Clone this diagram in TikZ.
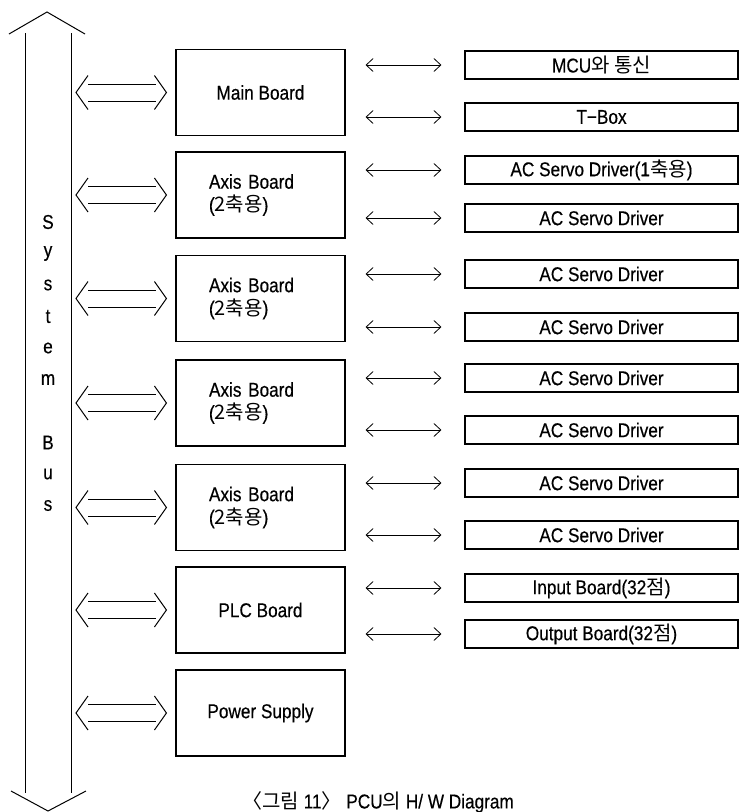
\documentclass[tikz,border=0pt]{standalone}
\usepackage{fontspec}
\setmainfont{Liberation Sans}[FakeStretch=0.86, FakeBold=0.4]
\newfontfamily\kr{Noto Sans CJK KR}
\usetikzlibrary{positioning, arrows.meta, calc}

\begin{document}
\begin{tikzpicture}[x=1pt, y=-1pt, font=\fontsize{20}{23}\selectfont,
    board/.style={draw, line width=1.1pt, minimum width=169pt, minimum height=86pt, inner sep=0pt},
    unit/.style={draw, line width=1.1pt, minimum width=273pt, minimum height=28pt, inner sep=0pt},
    link/.style={line width=0.8pt, {Straight Barb[length=7pt,width=13pt]}-{Straight Barb[length=7pt,width=13pt]}},
    dbl/.style={line width=1pt}]
    \useasboundingbox (0,0) rectangle (743,812);

    % System bus
    \draw[line width=1pt] (25,33) -- (25,793);
    \draw[line width=1pt] (71,33) -- (71,793);
    \draw[line width=1pt] (9,34) -- (47,12) -- (85,34); % up
    \draw[line width=1pt] (11,791) -- (48,811) -- (86,791); % down
    \coordinate (busR) at (71,400);

    % Letters on the bus
    \foreach \y/\c in {222/S, 253.5/y, 285/s, 316.5/t, 348/e, 379.5/m, 442.5/B, 474/u, 505.5/s} {
        \node (bus-\c-\y) at (48,\y) {\c};
    }

    % Boards
    \node[board] (main) at (260.5,92.5) {Main Board};
    \node[board, align=left, text width=103pt] (axisA) at (260.5,195) {Axis Board\\({\kr 2축용})};
    \node[board, align=left, text width=103pt] (axisB) at (260.5,298.5) {Axis Board\\({\kr 2축용})};
    \node[board, align=left, text width=103pt] (axisC) at (260.5,403) {Axis Board\\({\kr 2축용})};
    \node[board, align=left, text width=103pt] (axisD) at (260.5,507.5) {Axis Board\\({\kr 2축용})};
    \node[board] (plc) at (260.5,610) {PLC Board};
    \node[board] (psu) at (260.5,713) {Power Supply};

    % Double arrows between the bus and the boards
    \foreach \b in {main, axisA, axisB, axisC, axisD, plc, psu} {
        \coordinate (l) at ($(\b.west -| busR)+(5,0)$);
        \coordinate (r) at ($(\b.west)+(-9,0)$);
        \draw[dbl] ($(l)+(12,-17)$) -- (l) -- ($(l)+(12,17)$);
        \draw[dbl] ($(r)+(-12,-17)$) -- (r) -- ($(r)+(-12,17)$);
        \draw[dbl] ($(l)+(12,-8.5)$) -- ($(r)+(-10,-8.5)$);
        \draw[dbl] ($(l)+(12,8.5)$) -- ($(r)+(-10,8.5)$);
    }

    % Units on the right and their links
    \foreach \n/\y/\s/\t in {mcu/65/main/{MCU{\kr 와 통신}},
                            tbox/117/main/{T−Box},
                            servoA/170/axisA/{AC Servo Driver(1{\kr 축용})},
                            servoB/218/axisA/{AC Servo Driver},
                            servoC/274/axisB/{AC Servo Driver},
                            servoD/327/axisB/{AC Servo Driver},
                            servoE/378/axisC/{AC Servo Driver},
                            servoF/430/axisC/{AC Servo Driver},
                            servoG/483/axisD/{AC Servo Driver},
                            servoH/535/axisD/{AC Servo Driver},
                            inb/588/plc/{Input Board(32{\kr 점})},
                            outb/634/plc/{Output Board(32{\kr 점})}} {
        \node[unit] (\n) at (601.5,\y) {\t};
        \draw[link, shorten <=20pt, shorten >=23pt] (\n.west -| \s.east) -- (\n.west);
    }

    % Caption
    \node (cap) at (378,802) {{\kr 〈그림} 11{\kr 〉} PCU{\kr 의} H/ W Diagram};
\end{tikzpicture}
\end{document}
